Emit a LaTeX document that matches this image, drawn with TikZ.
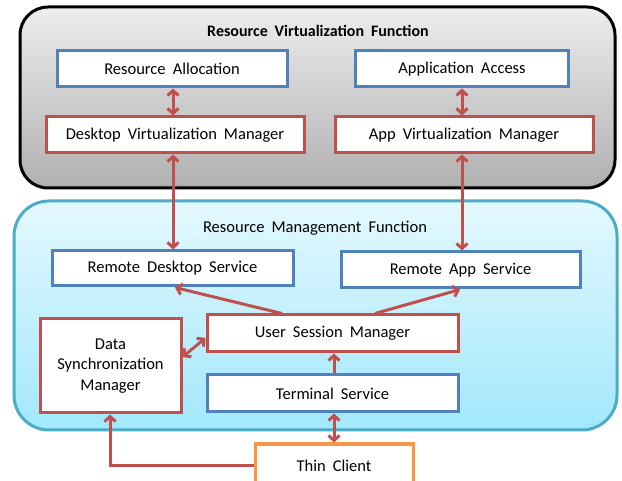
\documentclass[tikz,border=0pt]{standalone}
\usepackage{fontspec}
\setmainfont{Carlito}[WordSpace=1.9]
\usetikzlibrary{arrows.meta}
\definecolor{cred}{HTML}{C0504D}
\definecolor{cblue}{HTML}{4F81BD}
\definecolor{corange}{HTML}{F79646}
\definecolor{caqua}{HTML}{4BACC6}
\definecolor{gtop}{HTML}{EDEDED}
\definecolor{gbot}{HTML}{B0B0B0}
\definecolor{ctop}{HTML}{E4F8FE}
\definecolor{cbot}{HTML}{A2E8FC}
\begin{document}
\begin{tikzpicture}[x=1pt,y=-1pt,
  every node/.style={font=\fontsize{16.5}{20.5}\selectfont},
  boxb/.style={draw=cblue,line width=3pt,fill=white,inner sep=0pt},
  boxr/.style={draw=cred,line width=3pt,fill=white,inner sep=0pt},
  boxo/.style={draw=corange,line width=3pt,fill=white,inner sep=0pt},
  conn/.style={draw=cred,line width=3pt,-{Straight Barb[length=5pt,width=11pt]}},
  dconn/.style={draw=cred,line width=3pt,{Straight Barb[length=5pt,width=11pt]}-{Straight Barb[length=5pt,width=11pt]}}]
\useasboundingbox (0,0) rectangle (622,481);
% outer panels
\draw[line width=3pt,rounded corners=28pt,top color=gtop,bottom color=gbot] (20,7) rectangle (615,188);
\node[font=\fontsize{16}{20}\selectfont\bfseries] (rvf) at (318,31) {Resource Virtualization Function};
\draw[draw=caqua,line width=3pt,rounded corners=35pt,top color=ctop,bottom color=cbot] (14,201) rectangle (617,430);
\node (rmf) at (315,228) {Resource Management Function};
% boxes
\node[boxb,minimum width=230pt,minimum height=36pt] (ra) at (172,69) {Resource Allocation};
\node[boxb,minimum width=213pt,minimum height=36pt] (aa) at (462,69) {Application Access};
\node[boxr,minimum width=258pt,minimum height=36pt] (dvm) at (175,135) {Desktop Virtualization Manager};
\node[boxr,minimum width=258pt,minimum height=36pt] (avm) at (464,135) {App Virtualization Manager};
\node[boxb,minimum width=241pt,minimum height=35pt] (rds) at (172.5,268.5) {Remote Desktop Service};
\node[boxb,minimum width=239pt,minimum height=36pt] (ras) at (460.5,270) {Remote App Service};
\node[boxr,minimum width=141pt,minimum height=94pt,align=center] (dsm) at (110.5,366) {Data\\Synchronization\\Manager};
\node[boxr,minimum width=251pt,minimum height=37pt] (usm) at (332.5,333.5) {User Session Manager};
\node[boxb,minimum width=251pt,minimum height=37pt] (ts) at (332.5,393.5) {Terminal Service};
\node[boxo,minimum width=158pt,minimum height=44pt] (tc) at (334,466) {Thin Client};
% connectors
\draw[dconn] (ra.south -| 173,0) -- (dvm.north -| 173,0);
\draw[dconn] (aa.south -| 462,0) -- (avm.north -| 462,0);
\draw[dconn] (dvm.south -| 173,0) -- (rds.north -| 173,0);
\draw[dconn] (avm.south -| 462,0) -- (ras.north -| 462,0);
\draw[conn] (usm.north -| 282,0) -- (rds.south -| 175,0);
\draw[conn] (usm.north -| 375,0) -- (ras.south -| 460,0);
\draw[dconn] (dsm.east |- 0,357) -- (usm.west |- 0,338);
\draw[conn] (ts.north -| 334,0) -- (usm.south -| 334,0);
\draw[dconn] (ts.south -| 334,0) -- (tc.north -| 334,0);
\draw[conn] (tc.west |- 0,465) -| (dsm.south -| 110,0);
\end{tikzpicture}
\end{document}
